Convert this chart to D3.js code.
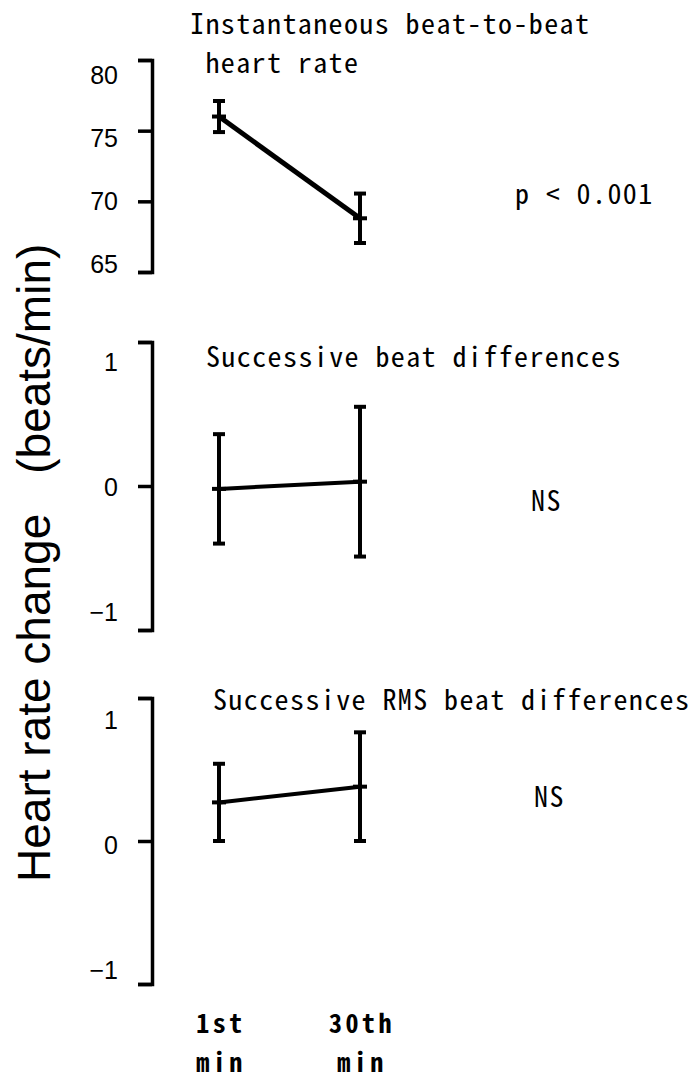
<!DOCTYPE html>
<meta charset="utf-8">
<head> <title> Heart rate change </title>
<style>
body { margin: 0; background: #fff; }
.axis path, .axis line { stroke: #000; stroke-width: 3.5px; fill: none; }
.ticklabel { font-family: "Liberation Sans Narrow", "Arial Narrow", "Liberation Sans", sans-serif; font-size: 25px; fill: #000; }
.mono { font-family: "Noto Sans Mono CJK JP", "DejaVu Sans Mono", monospace; font-size: 28px; letter-spacing: 1.4px; fill: #000; white-space: pre; }
.xlab { font-family: "Noto Sans Mono CJK JP", "DejaVu Sans Mono", monospace; font-size: 26px; font-weight: bold; letter-spacing: 3.5px; fill: #000; }
.ytitle { font-family: "Liberation Sans", Arial, sans-serif; font-size: 46px; fill: #000; }
</style>
</head>
<body>
<svg width="696" height="1078"></svg>
<script src="https://d3js.org/d3.v7.min.js"></script>
<script>

var svg = d3.select("svg");

// time points
var times = ["1st", "30th"];

// panel 1: instantaneous heart rate (beats/min), mean and error
var hrMean = [76.0, 68.8];
var hrErr  = [1.1, 1.75];
var hrTicks = [65, 70, 75, 80];

// panel 2: successive beat differences
var sbdMean = [-0.02, 0.03];
var sbdErr  = [0.38, 0.52];

// panel 3: successive RMS beat differences
var rmsMean = [0.27, 0.38];
var rmsErr  = [0.27, 0.38];

var diffTicks = [-1, 0, 1];

var x = d3.scalePoint().domain(times).range([219, 360]);

var panels = [
  { mean: hrMean, err: hrErr, domain: [65, 80], range: [272, 60], labelRange: [264, 75],
    ticks: hrTicks, lineWidth: 5,
    title: ["Instantaneous beat-to-beat", " heart rate"], titleX: 190, titleY: [34, 73],
    stat: "p < 0.001", statX: 515, statY: 204 },
  { mean: sbdMean, err: sbdErr, domain: [-1, 1], range: [630, 342], labelRange: [612, 362],
    ticks: diffTicks, lineWidth: 4,
    title: ["Successive beat differences"], titleX: 206, titleY: [367],
    stat: "NS", statX: 531, statY: 511 },
  { mean: rmsMean, err: rmsErr, domain: [-1, 1], range: [984, 698], labelRange: [970, 720],
    ticks: diffTicks, lineWidth: 4,
    title: ["Successive RMS beat differences"], titleX: 213, titleY: [710],
    stat: "NS", statX: 534, statY: 807 }
];

panels.forEach(drawPanel);

function drawPanel(p) {
  var y = d3.scaleLinear().domain(p.domain).range(p.range);
  // labels sit a bit inside the tick marks, as in the original figure
  var yLab = y.copy().range(p.labelRange);
  var g = svg.append("g");

  g.append("g")
    .attr("class", "axis")
    .attr("transform", "translate(152,0)")
    .call(d3.axisLeft(y).tickValues(p.ticks).tickSize(14).tickFormat(""));

  g.selectAll(".ticklabel")
    .data(p.ticks)
    .enter().append("text")
    .attr("class", "ticklabel")
    .attr("x", 118)
    .attr("y", function(d) { return yLab(d); })
    .attr("dy", "0.36em")
    .attr("text-anchor", "end")
    .text(function(d) { return d < 0 ? "\u2212" + Math.abs(d) : d; });

  var pts = times.map(function(t, i) { return { t: t, m: p.mean[i], e: p.err[i] }; });

  var line = d3.line()
    .x(function(d) { return x(d.t); })
    .y(function(d) { return y(d.m); });

  g.append("path")
    .datum(pts)
    .attr("d", line)
    .attr("fill", "none")
    .attr("stroke", "#000")
    .attr("stroke-width", p.lineWidth);

  var bars = g.selectAll(".bar")
    .data(pts)
    .enter().append("g")
    .attr("class", "bar")
    .attr("stroke", "#000")
    .attr("stroke-width", 4);

  bars.append("line")
    .attr("x1", function(d) { return x(d.t); })
    .attr("x2", function(d) { return x(d.t); })
    .attr("y1", function(d) { return y(d.m + d.e); })
    .attr("y2", function(d) { return y(d.m - d.e); });

  // caps and the small mark at the mean
  [[1, 6], [-1, 6], [0, 7]].forEach(function(c) {
    bars.append("line")
      .attr("x1", function(d) { return x(d.t) - c[1]; })
      .attr("x2", function(d) { return x(d.t) + c[1]; })
      .attr("y1", function(d) { return y(d.m + c[0] * d.e); })
      .attr("y2", function(d) { return y(d.m + c[0] * d.e); });
  });

  p.title.forEach(function(s, i) {
    g.append("text")
      .attr("class", "mono")
      .attr("x", p.titleX)
      .attr("y", p.titleY[i])
      .text(s);
  });

  g.append("text")
    .attr("class", "mono")
    .attr("x", p.statX)
    .attr("y", p.statY)
    .text(p.stat);
}

// x labels
var xl = svg.append("g").selectAll("text")
  .data(times)
  .enter().append("text")
  .attr("class", "xlab")
  .attr("text-anchor", "middle")
  .attr("x", function(d) { return x(d) + 2; })
  .attr("y", 1033);
xl.append("tspan").text(function(d) { return d; });
xl.append("tspan")
  .attr("x", function(d) { return x(d) + 2; })
  .attr("y", 1072)
  .text("min");

// y title
svg.append("text")
  .attr("class", "ytitle")
  .attr("transform", "translate(50,882) rotate(-90)")
  .text("Heart rate change")
  .append("tspan")
  .attr("dx", 40)
  .text("(beats/min)");

</script>
</body>
